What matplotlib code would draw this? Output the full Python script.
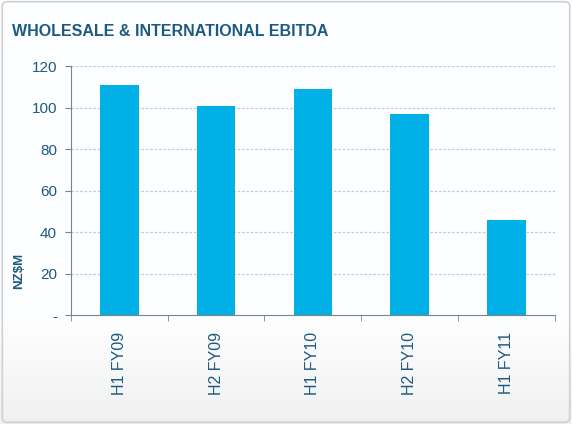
import numpy as np
import matplotlib
matplotlib.use('Agg')
import matplotlib.pyplot as plt
from matplotlib.patches import FancyBboxPatch

# 数据
periods = ['H1 FY09', 'H2 FY09', 'H1 FY10', 'H2 FY10', 'H1 FY11']
ebitda = [111, 101, 109, 97, 46]
yticks = [0, 20, 40, 60, 80, 100, 120]
ytick_labels = ['-', '20', '40', '60', '80', '100', '120']

text_color = '#1d5a80'
bar_color = '#00b0e6'

plt.rcParams['font.family'] = ['Liberation Sans', 'DejaVu Sans']

fig = plt.figure(figsize=(5.72, 4.24), dpi=100)

# 背景渐变
bg = fig.add_axes([0, 0, 1, 1], zorder=-10)
grad = np.ones((424, 1))
grad[320:, 0] = np.linspace(1.0, 0.945, 104)
bg.imshow(np.dstack([grad * 0.995, grad * 0.997, grad]).clip(0, 1), aspect='auto',
          extent=[0, 1, 0, 1], origin='upper')
bg.add_patch(FancyBboxPatch((0.004, 0.004), 0.992, 0.992, boxstyle='round,pad=0,rounding_size=0.01',
                            fill=False, edgecolor='#d0d0d0', lw=1.2, transform=bg.transAxes))
bg.set_axis_off()

fig.text(0.021, 0.925, 'WHOLESALE & INTERNATIONAL EBITDA', fontsize=11.5, fontweight='bold',
         color=text_color, va='center')

ax = fig.add_axes([0.124, 0.257, 0.846, 0.587])
ax.patch.set_alpha(0)
x = np.arange(len(periods))
ax.bar(x, ebitda, width=0.4, color=bar_color, zorder=3)

ax.set_xlim(-0.5, len(periods) - 0.5)
ax.set_ylim(0, 120)
ax.set_yticks(yticks)
ax.set_yticklabels(ytick_labels, color=text_color, fontsize=11)
ax.set_xticks(x)
ax.set_xticklabels(periods, rotation=90, color=text_color, fontsize=11.5)
ax.tick_params(axis='x', length=0, pad=12)
ax.set_xticks(np.arange(-0.5, len(periods)), minor=True)
ax.tick_params(axis='x', which='minor', length=4, color='#808080')
ax.tick_params(axis='y', length=4, color='#808080', pad=6)

for y in yticks[1:]:
    ax.axhline(y, color='#c8c8c8', lw=0.9, linestyle=(0, (2, 1.5)), zorder=1)

for s in ['top', 'right']:
    ax.spines[s].set_visible(False)
for s in ['left', 'bottom']:
    ax.spines[s].set_color('#808080')

fig.text(0.033, 0.36, 'NZ$M', rotation=90, fontsize=9.5, fontweight='bold', color=text_color,
         ha='center', va='center')

plt.savefig('out.png', dpi=100)
